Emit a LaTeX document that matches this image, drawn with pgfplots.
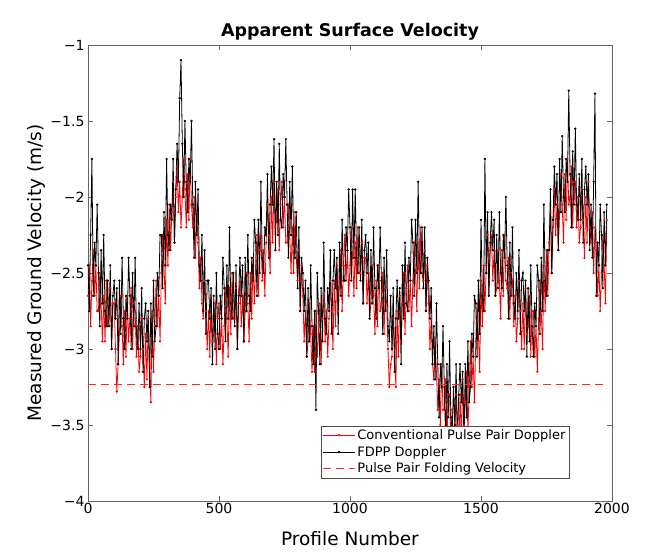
\documentclass[border=0pt]{standalone}
\usepackage{pgfplots}
\pgfplotsset{compat=1.18}
\usepackage{fontspec}
\setmainfont{DejaVu Sans}

\begin{document}
\begin{tikzpicture}
\begin{axis}[
    scale only axis,
    width=524pt, height=456pt,
    xmin=0, xmax=2000,
    ymin=-4, ymax=-1,
    xtick={0,500,1000,1500,2000},
    xticklabels={0,500,1000,1500,2000},
    ytick={-4,-3.5,-3,-2.5,-2,-1.5,-1},
    yticklabels={−4,−3.5,−3,−2.5,−2,−1.5,−1},
    tick align=inside,
    axis line style={black!60},
    tick style={black!60},
    major tick length=5pt,
    ticklabel style={font=\fontsize{14}{16}\selectfont},
    xticklabel style={yshift=1pt},
    xlabel={Profile Number},
    ylabel={Measured Ground Velocity (m/s)},
    label style={font=\fontsize{18.5}{21}\selectfont},
    xlabel style={yshift=-10pt},
    ylabel style={yshift=-2pt},
    title={\textbf{Apparent Surface Velocity}},
    title style={font=\fontsize{17.5}{20}\selectfont, yshift=-5pt},
    legend style={at={(0.918,0.05)}, anchor=south east, font=\fontsize{13}{15}\selectfont,
        draw=black!70, inner sep=1.5pt, row sep=1.5pt},
    legend image code/.code={
        \draw[mark repeat=2, mark phase=2] plot coordinates {(0cm,0cm) (0.56cm,0cm) (1.12cm,0cm)};},
    legend cell align=left,
]
\addplot[red, line width=0.8pt, mark=*, mark size=0.7pt] coordinates {
(0,-2.65) (5,-2.45) (10,-2.85) (15,-2.55)
(20,-2.35) (25,-2.65) (30,-2.45) (35,-2.75)
(40,-2.75) (45,-2.50) (50,-2.70) (55,-2.95)
(60,-2.65) (65,-2.95) (70,-2.55) (75,-2.85)
(80,-2.80) (85,-2.60) (90,-3.00) (95,-2.70)
(100,-2.70) (105,-3.00) (110,-3.28) (115,-3.10)
(120,-2.90) (125,-2.65) (130,-2.85) (135,-3.10)
(140,-2.75) (145,-3.05) (150,-2.65) (155,-2.95)
(160,-2.80) (165,-2.60) (170,-3.00) (175,-2.70)
(180,-2.75) (185,-3.05) (190,-2.85) (195,-3.15)
(200,-3.05) (205,-2.80) (210,-3.00) (215,-3.25)
(220,-2.90) (225,-3.20) (230,-2.80) (235,-3.10)
(240,-3.35) (245,-2.75) (250,-3.15) (255,-2.85)
(260,-2.55) (265,-2.85) (270,-2.65) (275,-2.95)
(280,-2.50) (285,-2.25) (290,-2.45) (295,-2.70)
(300,-2.15) (305,-2.45) (310,-2.05) (315,-2.35)
(320,-2.10) (325,-1.90) (330,-2.30) (335,-2.00)
(340,-1.80) (345,-2.10) (350,-1.90) (355,-2.20)
(360,-2.00) (365,-1.75) (370,-1.95) (375,-2.20)
(380,-1.85) (385,-2.15) (390,-1.75) (395,-2.05)
(400,-2.20) (405,-2.00) (410,-2.40) (415,-2.10)
(420,-2.30) (425,-2.60) (430,-2.40) (435,-2.70)
(440,-2.80) (445,-2.55) (450,-2.75) (455,-3.00)
(460,-2.75) (465,-3.05) (470,-2.65) (475,-2.95)
(480,-2.90) (485,-2.70) (490,-3.10) (495,-2.80)
(500,-2.70) (505,-3.00) (510,-2.80) (515,-3.10)
(520,-2.85) (525,-2.60) (530,-2.80) (535,-3.05)
(540,-2.60) (545,-2.90) (550,-2.50) (555,-2.80)
(560,-2.80) (565,-2.60) (570,-3.00) (575,-2.70)
(580,-2.55) (585,-2.85) (590,-2.65) (595,-2.95)
(600,-2.75) (605,-2.50) (610,-2.70) (615,-2.95)
(620,-2.50) (625,-2.80) (630,-2.40) (635,-2.70)
(640,-2.45) (645,-2.25) (650,-2.65) (655,-2.35)
(660,-2.25) (665,-2.55) (670,-2.35) (675,-2.65)
(680,-2.30) (685,-2.05) (690,-2.25) (695,-2.50)
(700,-2.00) (705,-2.30) (710,-1.90) (715,-2.20)
(720,-2.15) (725,-1.95) (730,-2.35) (735,-2.05)
(740,-1.90) (745,-2.20) (750,-2.00) (755,-2.30)
(760,-2.30) (765,-2.05) (770,-2.25) (775,-2.50)
(780,-2.20) (785,-2.50) (790,-2.10) (795,-2.40)
(800,-2.55) (805,-2.35) (810,-2.75) (815,-2.45)
(820,-2.65) (825,-2.95) (830,-2.75) (835,-3.05)
(840,-2.95) (845,-2.70) (850,-2.90) (855,-3.15)
(860,-2.85) (865,-3.15) (870,-2.75) (875,-3.05)
(880,-2.90) (885,-2.70) (890,-3.10) (895,-2.80)
(900,-2.65) (905,-2.95) (910,-2.75) (915,-3.05)
(920,-2.80) (925,-2.55) (930,-2.75) (935,-3.00)
(940,-2.55) (945,-2.85) (950,-2.45) (955,-2.75)
(960,-2.55) (965,-2.35) (970,-2.75) (975,-2.45)
(980,-2.25) (985,-2.55) (990,-2.35) (995,-2.65)
(1000,-2.45) (1005,-2.20) (1010,-2.40) (1015,-2.65)
(1020,-2.30) (1025,-2.60) (1030,-2.20) (1035,-2.50)
(1040,-2.50) (1045,-2.30) (1050,-2.70) (1055,-2.40)
(1060,-2.40) (1065,-2.70) (1070,-2.50) (1075,-2.80)
(1080,-2.70) (1085,-2.45) (1090,-2.65) (1095,-2.90)
(1100,-2.55) (1105,-2.85) (1110,-2.45) (1115,-2.75)
(1120,-2.70) (1125,-2.50) (1130,-2.90) (1135,-2.60)
(1140,-2.70) (1145,-3.00) (1150,-3.25) (1155,-3.10)
(1160,-3.05) (1165,-2.80) (1170,-3.00) (1175,-3.25)
(1180,-2.75) (1185,-3.05) (1190,-2.65) (1195,-2.95)
(1200,-2.70) (1205,-2.50) (1210,-2.90) (1215,-2.60)
(1220,-2.45) (1225,-2.75) (1230,-2.55) (1235,-2.85)
(1240,-2.55) (1245,-2.30) (1250,-2.50) (1255,-2.75)
(1260,-2.30) (1265,-2.60) (1270,-2.20) (1275,-2.50)
(1280,-2.55) (1285,-2.35) (1290,-2.75) (1295,-2.45)
(1300,-2.70) (1305,-3.00) (1310,-2.80) (1315,-3.10)
(1320,-3.20) (1325,-2.95) (1330,-3.15) (1335,-3.40)
(1340,-3.20) (1345,-3.50) (1350,-3.10) (1355,-3.40)
(1360,-3.40) (1365,-3.20) (1370,-3.60) (1375,-3.30)
(1380,-3.30) (1385,-3.60) (1390,-3.40) (1395,-3.70)
(1400,-3.55) (1405,-3.30) (1410,-3.50) (1415,-3.75)
(1420,-3.30) (1425,-3.60) (1430,-3.20) (1435,-3.50)
(1440,-3.35) (1445,-3.15) (1450,-3.55) (1455,-3.25)
(1460,-2.95) (1465,-3.25) (1470,-3.05) (1475,-3.35)
(1480,-2.95) (1485,-2.70) (1490,-2.90) (1495,-3.15)
(1500,-2.55) (1505,-2.85) (1510,-2.45) (1515,-2.75)
(1520,-2.45) (1525,-2.25) (1530,-2.65) (1535,-2.35)
(1540,-2.25) (1545,-2.55) (1550,-2.35) (1555,-2.65)
(1560,-2.60) (1565,-2.35) (1570,-2.55) (1575,-2.80)
(1580,-2.35) (1585,-2.65) (1590,-2.25) (1595,-2.55)
(1600,-2.60) (1605,-2.40) (1610,-2.80) (1615,-2.50)
(1620,-2.55) (1625,-2.85) (1630,-2.65) (1635,-2.95)
(1640,-2.80) (1645,-2.55) (1650,-2.75) (1655,-3.00)
(1660,-2.70) (1665,-3.00) (1670,-2.60) (1675,-2.90)
(1680,-2.85) (1685,-2.65) (1690,-3.05) (1695,-2.75)
(1700,-2.75) (1705,-3.05) (1710,-2.85) (1715,-3.15)
(1720,-2.80) (1725,-2.55) (1730,-2.75) (1735,-3.00)
(1740,-2.45) (1745,-2.75) (1750,-2.35) (1755,-2.65)
(1760,-2.30) (1765,-2.10) (1770,-2.50) (1775,-2.20)
(1780,-1.95) (1785,-2.25) (1790,-2.05) (1795,-2.35)
(1800,-2.10) (1805,-1.85) (1810,-2.05) (1815,-2.30)
(1820,-1.85) (1825,-2.15) (1830,-1.75) (1835,-2.05)
(1840,-2.00) (1845,-1.80) (1850,-2.20) (1855,-1.90)
(1860,-1.90) (1865,-2.20) (1870,-2.00) (1875,-2.30)
(1880,-2.20) (1885,-1.95) (1890,-2.15) (1895,-2.40)
(1900,-2.00) (1905,-2.30) (1910,-1.90) (1915,-2.20)
(1920,-2.30) (1925,-2.10) (1930,-2.50) (1935,-2.20)
(1940,-2.35) (1945,-2.65) (1950,-2.45) (1955,-2.75)
(1960,-2.50) (1965,-2.25) (1970,-2.45) (1975,-2.70)
(1980,-2.15)
};
\addlegendentry{Conventional Pulse Pair Doppler}
\addplot[black, line width=0.8pt, mark=*, mark size=0.7pt] coordinates {
(0,-2.45) (5,-2.75) (10,-2.25) (15,-1.75)
(20,-2.65) (25,-2.30) (30,-2.45) (35,-2.05)
(40,-2.50) (45,-2.85) (50,-2.35) (55,-2.70)
(60,-2.25) (65,-2.75) (70,-2.85) (75,-2.55)
(80,-2.85) (85,-2.45) (90,-3.00) (95,-2.65)
(100,-2.55) (105,-2.80) (110,-2.60) (115,-3.10)
(120,-2.55) (125,-2.90) (130,-2.40) (135,-2.80)
(140,-3.00) (145,-2.65) (150,-2.80) (155,-2.40)
(160,-2.65) (165,-3.00) (170,-2.50) (175,-2.85)
(180,-2.40) (185,-2.90) (190,-3.00) (195,-2.70)
(200,-3.00) (205,-2.60) (210,-3.15) (215,-2.80)
(220,-2.70) (225,-2.95) (230,-2.75) (235,-3.25)
(240,-2.70) (245,-3.05) (250,-2.55) (255,-2.95)
(260,-2.85) (265,-2.50) (270,-2.65) (275,-2.25)
(280,-2.25) (285,-2.60) (290,-2.10) (295,-2.45)
(300,-1.75) (305,-2.25) (310,-2.35) (315,-2.05)
(320,-2.15) (325,-1.75) (330,-2.30) (335,-1.95)
(340,-1.65) (345,-1.90) (350,-1.35) (355,-1.10)
(360,-1.65) (365,-2.00) (370,-1.50) (375,-1.90)
(380,-2.10) (385,-1.75) (390,-1.90) (395,-1.50)
(400,-2.05) (405,-2.40) (410,-1.90) (415,-2.25)
(420,-1.95) (425,-2.45) (430,-2.55) (435,-2.25)
(440,-2.75) (445,-2.35) (450,-2.90) (455,-2.55)
(460,-2.55) (465,-2.80) (470,-2.60) (475,-3.10)
(480,-2.65) (485,-3.00) (490,-2.50) (495,-2.90)
(500,-3.00) (505,-2.65) (510,-2.80) (515,-2.40)
(520,-2.60) (525,-2.95) (530,-2.45) (535,-2.80)
(540,-2.20) (545,-2.70) (550,-2.80) (555,-2.50)
(560,-2.85) (565,-2.45) (570,-3.00) (575,-2.65)
(580,-2.40) (585,-2.65) (590,-2.45) (595,-2.95)
(600,-2.40) (605,-2.75) (610,-2.25) (615,-2.65)
(620,-2.75) (625,-2.40) (630,-2.55) (635,-2.15)
(640,-2.30) (645,-2.65) (650,-2.15) (655,-2.50)
(660,-1.90) (665,-2.40) (670,-2.50) (675,-2.20)
(680,-2.25) (685,-1.85) (690,-2.40) (695,-2.05)
(700,-1.80) (705,-2.05) (710,-1.62) (715,-2.35)
(720,-1.90) (725,-2.25) (730,-1.65) (735,-2.15)
(740,-2.20) (745,-1.85) (750,-2.00) (755,-1.62)
(760,-2.05) (765,-2.40) (770,-1.90) (775,-2.25)
(780,-1.80) (785,-2.30) (790,-2.40) (795,-2.10)
(800,-2.60) (805,-2.20) (810,-2.75) (815,-2.40)
(820,-2.50) (825,-2.75) (830,-2.55) (835,-3.05)
(840,-2.60) (845,-2.95) (850,-2.45) (855,-2.85)
(860,-3.10) (865,-2.75) (870,-3.40) (875,-2.50)
(880,-2.75) (885,-3.10) (890,-2.60) (895,-2.95)
(900,-2.30) (905,-2.80) (910,-2.90) (915,-2.60)
(920,-2.75) (925,-2.35) (930,-2.90) (935,-2.55)
(940,-2.35) (945,-2.60) (950,-2.40) (955,-2.90)
(960,-2.30) (965,-2.65) (970,-2.15) (975,-2.55)
(980,-2.55) (985,-2.20) (990,-2.35) (995,-1.95)
(1000,-2.20) (1005,-2.55) (1010,-1.95) (1015,-2.40)
(1020,-1.95) (1025,-2.40) (1030,-2.50) (1035,-2.20)
(1040,-2.55) (1045,-2.15) (1050,-2.70) (1055,-2.35)
(1060,-2.25) (1065,-2.50) (1070,-2.30) (1075,-2.80)
(1080,-2.35) (1085,-2.70) (1090,-2.20) (1095,-2.60)
(1100,-2.80) (1105,-2.45) (1110,-2.60) (1115,-2.20)
(1120,-2.55) (1125,-2.90) (1130,-2.40) (1135,-2.75)
(1140,-2.35) (1145,-2.85) (1150,-2.95) (1155,-2.65)
(1160,-3.00) (1165,-2.60) (1170,-3.15) (1175,-2.80)
(1180,-2.55) (1185,-2.80) (1190,-2.60) (1195,-3.10)
(1200,-2.45) (1205,-2.80) (1210,-2.30) (1215,-2.70)
(1220,-2.75) (1225,-2.40) (1230,-2.55) (1235,-2.15)
(1240,-2.30) (1245,-2.65) (1250,-2.15) (1255,-2.50)
(1260,-1.90) (1265,-2.40) (1270,-2.50) (1275,-2.20)
(1280,-2.60) (1285,-2.20) (1290,-2.75) (1295,-2.40)
(1300,-2.55) (1305,-2.80) (1310,-2.60) (1315,-3.10)
(1320,-2.85) (1325,-3.20) (1330,-2.70) (1335,-3.10)
(1340,-3.45) (1345,-3.10) (1350,-3.25) (1355,-2.85)
(1360,-3.25) (1365,-3.60) (1370,-3.10) (1375,-3.45)
(1380,-2.95) (1385,-3.45) (1390,-3.55) (1395,-3.25)
(1400,-3.50) (1405,-3.10) (1410,-3.65) (1415,-3.30)
(1420,-3.10) (1425,-3.35) (1430,-3.15) (1435,-3.65)
(1440,-3.10) (1445,-3.45) (1450,-2.95) (1455,-3.35)
(1460,-3.25) (1465,-2.90) (1470,-3.05) (1475,-2.65)
(1480,-2.70) (1485,-3.05) (1490,-2.55) (1495,-2.90)
(1500,-2.15) (1505,-2.65) (1510,-2.75) (1515,-1.75)
(1520,-2.50) (1525,-2.10) (1530,-2.65) (1535,-2.30)
(1540,-2.10) (1545,-2.35) (1550,-2.15) (1555,-2.65)
(1560,-2.25) (1565,-2.60) (1570,-2.10) (1575,-2.50)
(1580,-2.60) (1585,-2.25) (1590,-2.40) (1595,-2.00)
(1600,-2.45) (1605,-2.80) (1610,-2.30) (1615,-2.65)
(1620,-2.20) (1625,-2.70) (1630,-2.80) (1635,-2.50)
(1640,-2.75) (1645,-2.35) (1650,-2.90) (1655,-2.55)
(1660,-2.50) (1665,-2.75) (1670,-2.55) (1675,-3.05)
(1680,-2.60) (1685,-2.95) (1690,-2.45) (1695,-2.85)
(1700,-3.05) (1705,-2.70) (1710,-2.85) (1715,-2.45)
(1720,-2.55) (1725,-2.90) (1730,-2.40) (1735,-2.75)
(1740,-2.05) (1745,-2.55) (1750,-2.65) (1755,-2.35)
(1760,-2.35) (1765,-1.95) (1770,-2.50) (1775,-2.15)
(1780,-1.80) (1785,-2.05) (1790,-1.85) (1795,-2.35)
(1800,-1.75) (1805,-2.10) (1810,-1.60) (1815,-2.00)
(1820,-2.10) (1825,-1.75) (1830,-1.90) (1835,-1.30)
(1840,-1.85) (1845,-2.20) (1850,-1.70) (1855,-2.05)
(1860,-1.55) (1865,-2.05) (1870,-2.15) (1875,-1.85)
(1880,-2.15) (1885,-1.75) (1890,-2.30) (1895,-1.95)
(1900,-1.80) (1905,-2.05) (1910,-1.85) (1915,-2.35)
(1920,-2.05) (1925,-2.40) (1930,-1.90) (1935,-1.32)
(1940,-2.65) (1945,-2.30) (1950,-2.45) (1955,-2.05)
(1960,-2.25) (1965,-2.60) (1970,-2.10) (1975,-2.45)
(1980,-2.05)
};
\addlegendentry{FDPP Doppler}
\addplot[red!85, line width=0.9pt, dash pattern=on 8pt off 5pt] coordinates {(0,-3.23) (1980,-3.23)};
\addlegendentry{Pulse Pair Folding Velocity}
\end{axis}
\path (current axis.south west) ++(-88pt,-53pt) rectangle ++(651pt,554pt);
\end{tikzpicture}
\end{document}
